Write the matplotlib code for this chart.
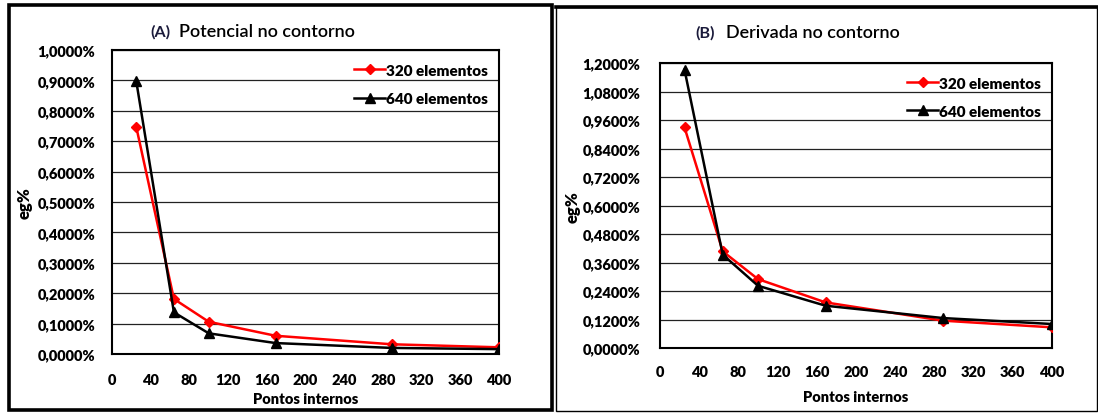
import matplotlib
matplotlib.use("Agg")
import matplotlib.pyplot as plt
from matplotlib.patches import Rectangle
from matplotlib.lines import Line2D
from matplotlib.ticker import FuncFormatter

plt.rcParams['font.family'] = ['Lato', 'DejaVu Sans']

# Pontos internos (grades 5x5 ... 20x20)
pontos = [25, 64, 100, 169, 289, 400]

# (A) Potencial no contorno - eg%
pot_320 = [0.748, 0.181, 0.106, 0.060, 0.032, 0.022]
pot_640 = [0.899, 0.137, 0.068, 0.036, 0.020, 0.016]

# (B) Derivada no contorno - eg%
der_320 = [0.929, 0.407, 0.290, 0.192, 0.115, 0.087]
der_640 = [1.172, 0.393, 0.262, 0.178, 0.126, 0.101]

x_ticks = list(range(0, 401, 40))
yticks_a = [i * 0.1 for i in range(11)]
yticks_b = [i * 0.12 for i in range(11)]

W, H = 1098, 414
fig = plt.figure(figsize=(W / 100, H / 100), dpi=100)

BOLD = 'heavy'


def fmt_pct(v, pos):
    return f"{v:.4f}%".replace(".", ",")


def px_axes(x0, x1, y0, y1):
    return fig.add_axes([x0 / W, 1 - y1 / H, (x1 - x0) / W, (y1 - y0) / H])


def draw_panel(ax, y320, y640, yticks, ymax):
    ax.plot(pontos, y320, color='#FF0000', lw=1.8, marker='D', ms=5.5,
            label='320 elementos', zorder=3)
    ax.plot(pontos, y640, color='black', lw=1.8, marker='^', ms=7,
            label='640 elementos', zorder=4)
    ax.set_xlim(0, 400)
    ax.set_ylim(0, ymax)
    ax.set_xticks(x_ticks)
    ax.set_yticks(yticks)
    ax.yaxis.set_major_formatter(FuncFormatter(fmt_pct))
    ax.grid(axis='y', color='#222222', lw=0.9)
    ax.set_axisbelow(True)
    ax.tick_params(length=0, labelsize=10.5)
    for lab in ax.get_xticklabels() + ax.get_yticklabels():
        lab.set_fontweight(BOLD)
    for sp in ax.spines.values():
        sp.set_linewidth(1.5)
        sp.set_color('black')
    ax.legend(loc='upper right', bbox_to_anchor=(1.0, 0.99), frameon=False,
              prop={'weight': BOLD, 'size': 11},
              handlelength=2.0, handletextpad=0.1, labelspacing=1.0,
              borderaxespad=0.3)


# Panel A
ax_a = px_axes(112, 499, 51, 355)
draw_panel(ax_a, pot_320, pot_640, yticks_a, 1.0)
ax_a.tick_params(axis='y', pad=12)
ax_a.tick_params(axis='x', pad=14)

# Panel B
ax_b = px_axes(660, 1052, 64, 349)
draw_panel(ax_b, der_320, der_640, yticks_b, 1.2)
ax_b.tick_params(axis='y', pad=14)
ax_b.tick_params(axis='x', pad=12)


# Titles and axis labels (figure pixel coords)
def ftext(x, y, s, **kw):
    fig.text(x / W, 1 - y / H, s, **kw)


ftext(160, 32, "(A)", ha='center', va='center', fontsize=11.5,
      fontweight='bold', color='#1a1a3a')
ftext(179, 32, "Potencial no contorno", ha='left', va='center',
      fontsize=13, fontweight='semibold')
ftext(705, 33, "(B)", ha='center', va='center', fontsize=11.5,
      fontweight='bold', color='#1a1a3a')
ftext(726, 33, "Derivada no contorno", ha='left', va='center',
      fontsize=13, fontweight='semibold')

ftext(25, 203, "eg%", ha='center', va='center', rotation=90,
      fontsize=12, fontweight=BOLD)
ftext(573, 207, "eg%", ha='center', va='center', rotation=90,
      fontsize=12, fontweight=BOLD)
ftext(306, 400, "Pontos internos", ha='center', va='center',
      fontsize=10.5, fontweight=BOLD)
ftext(856, 398, "Pontos internos", ha='center', va='center',
      fontsize=10.5, fontweight=BOLD)

# Outer panel boxes
fig.patches.append(Rectangle((9 / W, 1 - 411 / H), (552 - 9) / W, (411 - 6) / H,
                             transform=fig.transFigure, fill=False,
                             edgecolor='black', lw=2.6))
fig.patches.append(Rectangle((556 / W, 1 - 412 / H), (1097 - 556) / W, (412 - 8) / H,
                             transform=fig.transFigure, fill=False,
                             edgecolor='black', lw=1.0))
fig.lines.append(Line2D([556 / W, 1097 / W], [1 - 8 / H, 1 - 8 / H],
                        transform=fig.transFigure, color='black', lw=2.6))

fig.savefig("out.png", dpi=100)
